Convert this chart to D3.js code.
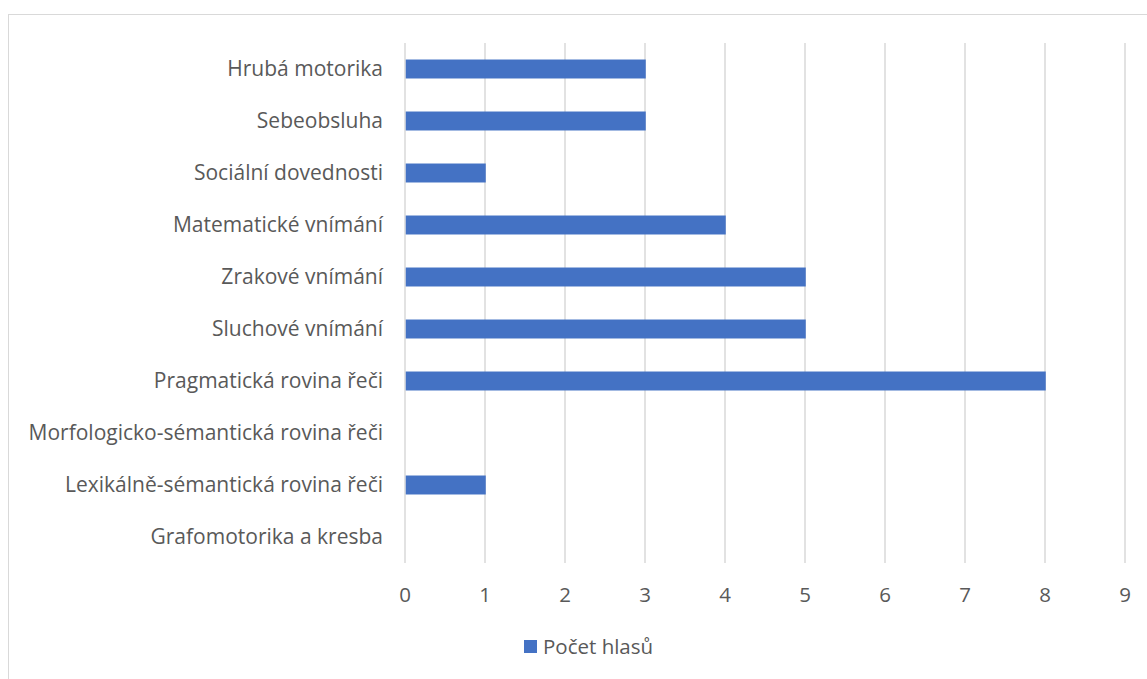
<!DOCTYPE html>
<html>
<head>
<meta charset="utf-8">
<script src="https://cdn.jsdelivr.net/npm/d3@7"></script>
<style>
  body { margin: 0; background: #fff; }
  svg text { font-family: "Open Sans", Lato, sans-serif; fill: #595959; }
</style>
</head>
<body>
<div id="chart"></div>
<script>
// data
var categories = [
    "Hrubá motorika",
    "Sebeobsluha",
    "Sociální dovednosti",
    "Matematické vnímání",
    "Zrakové vnímání",
    "Sluchové vnímání",
    "Pragmatická rovina řeči",
    "Morfologicko-sémantická rovina řeči",
    "Lexikálně-sémantická rovina řeči",
    "Grafomotorika a kresba"
];
var votes = [3, 3, 1, 4, 5, 5, 8, 0, 1, 0];
var xTicks = [0, 1, 2, 3, 4, 5, 6, 7, 8, 9];
var seriesName = "Počet hlasů";

var chartWidth = 1147, chartHeight = 679;
var plotLeft = 405, plotRight = 1125, plotTop = 43, plotBottom = 563;
var barColor = "#4472C4";

var svg = d3.select("#chart").append("svg")
    .attr("width", chartWidth)
    .attr("height", chartHeight);

// outer chart border
svg.append("rect")
    .attr("x", 8.5).attr("y", 14.5)
    .attr("width", 1150).attr("height", 680)
    .attr("fill", "none")
    .attr("stroke", "#d9d9d9")
    .attr("stroke-width", 1);

var x = d3.scaleLinear().domain([0, 9]).range([plotLeft, plotRight]);
var y = d3.scaleBand().domain(categories).range([plotTop, plotBottom]).paddingInner(0.635).paddingOuter(0.3175);

// gridlines
svg.append("g").selectAll("line")
    .data(xTicks)
    .enter().append("line")
    .attr("x1", function(d) { return x(d); })
    .attr("x2", function(d) { return x(d); })
    .attr("y1", plotTop)
    .attr("y2", plotBottom)
    .attr("stroke", "#d9d9d9")
    .attr("stroke-width", 1.5);

// bars
svg.append("g").selectAll("rect")
    .data(categories)
    .enter().append("rect")
    .attr("x", x(0) + 0.75)
    .attr("y", function(d) { return y(d); })
    .attr("width", function(d, i) { return Math.max(0, x(votes[i]) - x(0)); })
    .attr("height", y.bandwidth())
    .attr("fill", barColor);

// category labels
svg.append("g").selectAll("text")
    .data(categories)
    .enter().append("text")
    .attr("x", 383)
    .attr("y", function(d) { return y(d) + y.bandwidth() / 2; })
    .attr("dy", "0.35em")
    .attr("text-anchor", "end")
    .style("font-size", "21px")
    .text(function(d) { return d; });

// x tick labels
svg.append("g").selectAll("text")
    .data(xTicks)
    .enter().append("text")
    .attr("x", function(d) { return x(d); })
    .attr("y", 595)
    .attr("dy", "0.35em")
    .attr("text-anchor", "middle")
    .style("font-size", "20.5px")
    .text(function(d) { return d; });

// legend
var legend = svg.append("g");
legend.append("rect")
    .attr("x", 524).attr("y", 640)
    .attr("width", 13).attr("height", 13)
    .attr("fill", barColor);
legend.append("text")
    .attr("x", 543).attr("y", 647)
    .attr("dy", "0.35em")
    .style("font-size", "20.5px")
    .text(seriesName);
</script>
</body>
</html>
